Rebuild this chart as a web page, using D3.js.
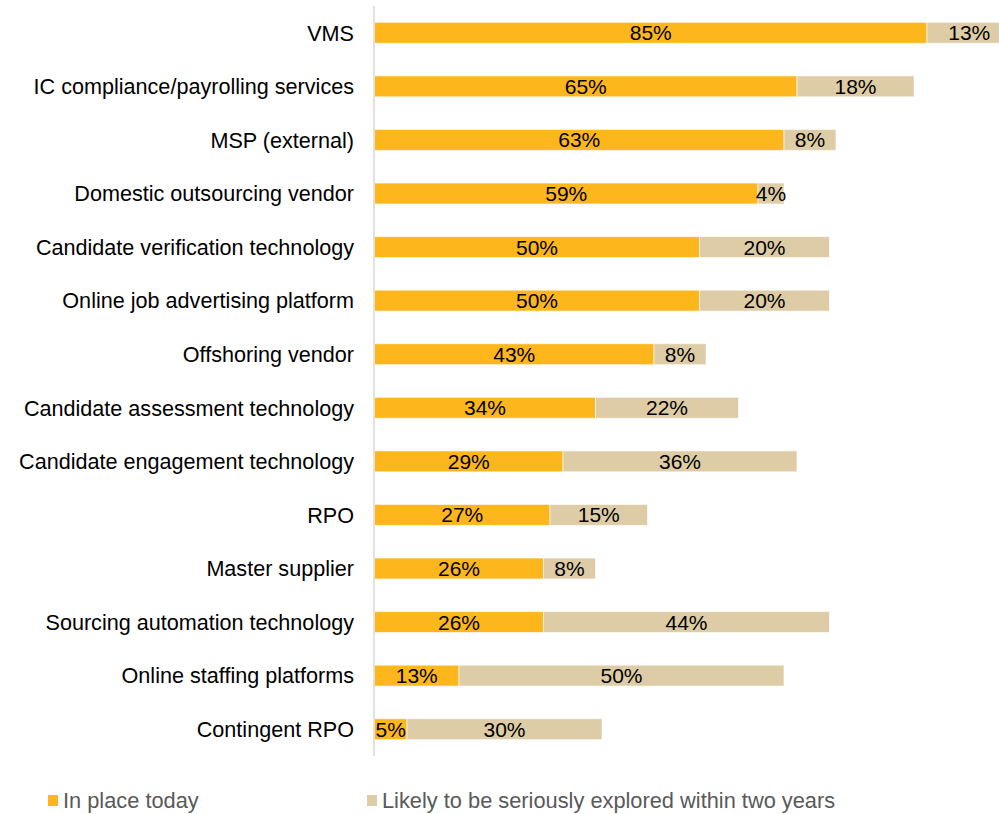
<!DOCTYPE html>
<html><head><meta charset="utf-8">
<script src="https://cdn.jsdelivr.net/npm/d3@7"></script>
<style>body{margin:0;background:#fff;} svg{display:block;font-family:"Liberation Sans",Arial,sans-serif;}</style>
</head><body>
<svg id="chart" width="999" height="814"></svg>
<script>
const categories = ["VMS","IC compliance/payrolling services","MSP (external)","Domestic outsourcing vendor","Candidate verification technology","Online job advertising platform","Offshoring vendor","Candidate assessment technology","Candidate engagement technology","RPO","Master supplier","Sourcing automation technology","Online staffing platforms","Contingent RPO"];
const inPlace = [85,65,63,59,50,50,43,34,29,27,26,26,13,5];
const likely = [13,18,8,4,20,20,8,22,36,15,8,44,50,30];
const seriesNames = ["In place today","Likely to be seriously explored within two years"];
const colors = ["#FDB71C","#DDCCA5"];

const svg = d3.select("#chart");
const x = d3.scaleLinear().domain([0,100]).range([374.5,1024.5]);
const y = d3.scaleBand().domain(categories).range([6,756]).paddingInner(0.61).paddingOuter(0.305);

const rows = categories.map((c,i)=>({cat:c, vals:[inPlace[i], likely[i]]}));
const segs = [];
rows.forEach(r=>{
  let s=0;
  r.vals.forEach((v,k)=>{ segs.push({cat:r.cat,k,x0:s,x1:s+v,v}); s+=v; });
});

svg.append("g").selectAll("rect").data(segs).join("rect")
  .attr("x",d=>x(d.x0)).attr("width",d=>x(d.x1)-x(d.x0))
  .attr("y",d=>y(d.cat)).attr("height",y.bandwidth())
  .attr("fill",d=>colors[d.k]).attr("stroke","#fff").attr("stroke-opacity",0.6).attr("stroke-width",1);

svg.append("g").selectAll("text").data(segs).join("text")
  .attr("x",d=>(x(d.x0)+x(d.x1))/2).attr("y",d=>y(d.cat)+y.bandwidth()/2)
  .attr("dy","0.36em").attr("text-anchor","middle")
  .attr("font-size",21).attr("fill","#000").text(d=>d.v+"%");

// axis line
svg.append("line").attr("x1",374).attr("x2",374).attr("y1",6).attr("y2",756)
  .attr("stroke","#d9d9d9").attr("stroke-width",1.5);

// category labels
svg.append("g").selectAll("text").data(categories).join("text")
  .attr("x",354).attr("y",d=>y(d)+y.bandwidth()/2).attr("dy","0.36em")
  .attr("text-anchor","end").attr("font-size",21.6).attr("fill","#000").text(d=>d);

// legend
const legX = [48,367];
const lg = svg.append("g").selectAll("g").data(seriesNames).join("g")
  .attr("transform",(d,i)=>`translate(${legX[i]},795)`);
lg.append("rect").attr("width",10).attr("height",11).attr("fill",(d,i)=>colors[i]);
lg.append("text").attr("x",15).attr("y",5.5).attr("dy","0.36em").attr("font-size",21.8)
  .attr("fill","#595959").text(d=>d);
</script>
</body></html>
